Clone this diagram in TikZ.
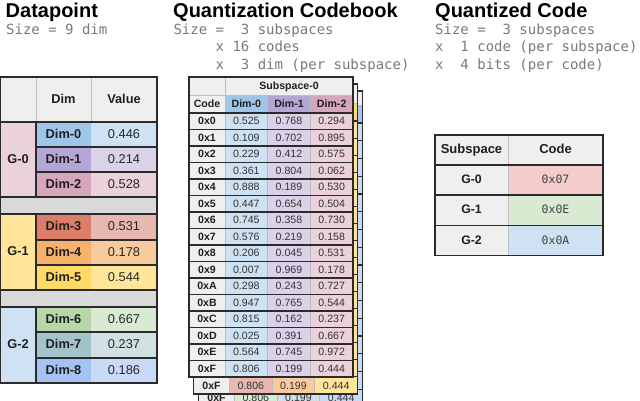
\documentclass[tikz,border=0pt]{standalone}
\usepackage{fontspec}
\setmainfont{Liberation Sans}
\setmonofont{DejaVu Sans Mono}
\definecolor{hdr}{HTML}{EFEFEF}
\definecolor{sep}{HTML}{D9D9D9}
\definecolor{dkline}{HTML}{2B2B2B}
\definecolor{ltline}{HTML}{BDBDBD}
\definecolor{sizegray}{HTML}{7A7A7A}
\definecolor{codegray}{HTML}{444444}
\definecolor{blue-d}{HTML}{9FC5E8}\definecolor{blue-l}{HTML}{CFE2F3}
\definecolor{purp-d}{HTML}{B4A7D6}\definecolor{purp-l}{HTML}{D9D2E9}
\definecolor{pink-d}{HTML}{D5A6BD}\definecolor{pink-l}{HTML}{EAD1DC}
\definecolor{red-d}{HTML}{DD7E6B}\definecolor{red-l}{HTML}{E6B8AF}
\definecolor{orng-d}{HTML}{F6B26B}\definecolor{orng-l}{HTML}{F9CB9C}
\definecolor{yel-d}{HTML}{FFD966}\definecolor{yel-l}{HTML}{FFE599}
\definecolor{grn-d}{HTML}{B6D7A8}\definecolor{grn-l}{HTML}{D9EAD3}
\definecolor{teal-d}{HTML}{A2C4C9}\definecolor{teal-l}{HTML}{D0E0E3}
\definecolor{cbl-d}{HTML}{A4C2F4}\definecolor{cbl-l}{HTML}{C9DAF8}
\definecolor{qred}{HTML}{F4CCCC}\definecolor{qgreen}{HTML}{D9EAD3}\definecolor{qblue}{HTML}{CFE2F3}
\newcommand\cellbox[8]{%
  \fill[#6] (#2,#3) rectangle (#4,#5);
  \node[#7] (#1) at ({(#2+#4)/2},{(#3+#5)/2}) {#8};}
\newcommand\drawcb{%
  \pgfmathsetmacro\xa{\cbx+36}%
  \pgfmathsetmacro\xb{\cbx+78.67}%
  \pgfmathsetmacro\xc{\cbx+121.33}%
  \pgfmathsetmacro\xd{\cbx+164}%
  \pgfmathsetmacro\ya{\cby+\cbha}%
  \pgfmathsetmacro\yb{\ya+18}%
  \pgfmathsetmacro\ye{\yb+16*\cbr}%
  \fill[hdr] (\cbx,\cby) rectangle (\xd,\yb);
  \fill[hdr] (\cbx,\yb) rectangle (\xa,\ye);
  \fill[\cha] (\xa,\ya) rectangle (\xb,\yb);
  \fill[\chb] (\xb,\ya) rectangle (\xc,\yb);
  \fill[\chc] (\xc,\ya) rectangle (\xd,\yb);
  \fill[\cva] (\xa,\yb) rectangle (\xb,\ye);
  \fill[\cvb] (\xb,\yb) rectangle (\xc,\ye);
  \fill[\cvc] (\xc,\yb) rectangle (\xd,\ye);
  \draw[lt] (\xa,\cby) -- (\xa,\ye);
  \draw[lt] (\xb,\ya) -- (\xb,\ye);
  \draw[lt] (\xc,\ya) -- (\xc,\ye);
  \draw[lt] (\cbx,\ya) -- (\xd,\ya);
  \foreach \k in {0,...,15} {\pgfmathsetmacro\yy{\yb+\k*\cbr}\draw[dk] (\cbx,\yy) -- (\xd,\yy);}
  \draw[dk] (\cbx,\cby) rectangle (\xd,\ye);
}
\begin{document}
\begin{tikzpicture}[x=1pt,y=-1pt,
  title/.style={inner sep=0pt, anchor=base west, font=\fontsize{20}{24}\selectfont\bfseries},
  sizetxt/.style={inner sep=0pt, anchor=base west, text=sizegray, font=\fontsize{14}{16}\ttfamily},
  tb/.style={inner sep=0pt, text height=0.72em, text depth=0pt, text=black!88, font=\fontsize{12.8}{14}\selectfont\bfseries},
  tr/.style={inner sep=0pt, text height=0.72em, text depth=0pt, text=black!85, font=\fontsize{12.8}{14}\selectfont},
  cbb/.style={inner sep=0pt, text height=0.72em, text depth=0pt, text=black!88, font=\fontsize{10.6}{12}\selectfont\bfseries},
  cbr/.style={inner sep=0pt, text height=0.72em, text depth=0pt, text=black!80, font=\fontsize{10.6}{12}\selectfont},
  qb/.style={inner sep=0pt, text height=0.72em, text depth=0pt, text=black!88, font=\fontsize{13}{15}\selectfont\bfseries},
  qg/.style={inner sep=0pt, text height=0.72em, text depth=0pt, text=black!88, font=\fontsize{12.3}{14}\selectfont\bfseries},
  qm/.style={inner sep=0pt, text height=0.73em, text depth=0pt, text=codegray, font=\fontsize{11.5}{13}\ttfamily},
  dk/.style={draw=dkline, line width=1.1pt},
  lt/.style={draw=ltline, line width=0.9pt}]
\useasboundingbox[fill=white] (0,0) rectangle (640,400);

% ---------- titles ----------
\node[title] (t-dp) at (5.5,17) {Datapoint};
\node[sizetxt] (s-dp) at (6,34) {Size = 9 dim};
\node[title] (t-cb) at (173,17) {Quantization Codebook};
\node[sizetxt] (s-cb1) at (173.3,34) {Size =\ \ 3 subspaces};
\node[sizetxt] (s-cb2) at (173.3,51.5) {\ \ \ \ \ x 16 codes};
\node[sizetxt] (s-cb3) at (173.3,69) {\ \ \ \ \ x\ \ 3 dim (per subspace)};
\node[title] (t-qc) at (435,17) {Quantized Code};
\node[sizetxt] (s-qc1) at (435,34) {Size =\ \ 3 subspaces};
\node[sizetxt] (s-qc2) at (435,51.5) {x\ \ 1 code (per subspace)};
\node[sizetxt] (s-qc3) at (435,69) {x\ \ 4 bits (per code)};

% ---------- datapoint table ----------
\fill[hdr] (0,77) rectangle (157,122);
\node[tb] (dp-hdim) at (63.5,99.5) {Dim};
\node[tb] (dp-hval) at (124,99.5) {Value};
\draw[lt] (36,77) -- (36,122);
\draw[lt] (91,77) -- (91,122);
\cellbox{dp-g0}{0}{122}{36}{197}{pink-l}{tb}{G-0}
\cellbox{dp-g1}{0}{214}{36}{290}{yel-l}{tb}{G-1}
\cellbox{dp-g2}{0}{307}{36}{383}{blue-l}{tb}{G-2}
\fill[sep] (0,197) rectangle (157,214);
\fill[sep] (0,290) rectangle (157,307);
\foreach \n/\ya/\yb/\cd/\cl/\v in {0/122/147/blue-d/blue-l/0.446, 1/147/172/purp-d/purp-l/0.214, 2/172/197/pink-d/pink-l/0.528, 3/214/240/red-d/red-l/0.531, 4/240/265/orng-d/orng-l/0.178, 5/265/290/yel-d/yel-l/0.544, 6/307/332/grn-d/grn-l/0.667, 7/332/358/teal-d/teal-l/0.237, 8/358/383/cbl-d/cbl-l/0.186}{
  \cellbox{dp-d\n}{36}{\ya}{91}{\yb}{\cd}{tb}{Dim-\n}
  \cellbox{dp-v\n}{91}{\ya}{157}{\yb}{\cl}{tr}{\v}
  \draw[dk] (36,\ya) rectangle (157,\yb);
}
\foreach \yy in {122,197,214,290,307}{\draw[dk] (0,\yy) -- (157,\yy);}
\draw[dk] (0.6,77) rectangle (157,383);

% ---------- codebook: back tables ----------
\def\cbx{198.5}\def\cby{91}\def\cbha{14}\def\cbr{17.75}
\def\cha{grn-d}\def\chb{teal-d}\def\chc{cbl-d}\def\cva{grn-l}\def\cvb{teal-l}\def\cvc{cbl-l}
\drawcb
\node[cbb] (t3-c15) at (216.5,398.1) {0xF};
\node[cbr] (t3-a15) at (198.5+57.33,398.1) {0.806};
\node[cbr] (t3-b15) at (198.5+100,398.1) {0.199};
\node[cbr] (t3-d15) at (198.5+142.67,398.1) {0.444};

\def\cbx{193.5}\def\cby{84}\def\cbha{19}\def\cbr{17.06}
\def\cha{red-d}\def\chb{orng-d}\def\chc{yel-d}\def\cva{red-l}\def\cvb{orng-l}\def\cvc{yel-l}
\drawcb
\node[cbb] (t2-c15) at (211.5,385.4) {0xF};
\node[cbr] (t2-a15) at (193.5+57.33,385.4) {0.806};
\node[cbr] (t2-b15) at (193.5+100,385.4) {0.199};
\node[cbr] (t2-d15) at (193.5+142.67,385.4) {0.444};

% ---------- codebook: front table ----------
\def\cbx{189}\def\cby{77}\def\cbha{18}\def\cbr{16.5}
\def\cha{blue-d}\def\chb{purp-d}\def\chc{pink-d}\def\cva{blue-l}\def\cvb{purp-l}\def\cvc{pink-l}
\drawcb
\node[cbb] (t1-sub) at (289,86) {Subspace-0};
\node[cbb] (t1-code) at (207,104) {Code};
\node[cbb] (t1-h0) at (246.33,104) {Dim-0};
\node[cbb] (t1-h1) at (289,104) {Dim-1};
\node[cbb] (t1-h2) at (331.67,104) {Dim-2};
\foreach \c/\a/\b/\d [count=\i from 0] in {0/0.525/0.768/0.294, 1/0.109/0.702/0.895, 2/0.229/0.412/0.575, 3/0.361/0.804/0.062, 4/0.888/0.189/0.530, 5/0.447/0.654/0.504, 6/0.745/0.358/0.730, 7/0.576/0.219/0.158, 8/0.206/0.045/0.531, 9/0.007/0.969/0.178, A/0.298/0.243/0.727, B/0.947/0.765/0.544, C/0.815/0.162/0.237, D/0.025/0.391/0.667, E/0.564/0.745/0.972, F/0.806/0.199/0.444}{
  \pgfmathsetmacro\yc{113+(\i+0.5)*16.5}
  \node[cbb] (t1-c\i) at (207,\yc) {0x\c};
  \node[cbr] (t1-a\i) at (246.33,\yc) {\a};
  \node[cbr] (t1-b\i) at (289,\yc) {\b};
  \node[cbr] (t1-d\i) at (331.67,\yc) {\d};
}

% ---------- quantized code table ----------
\fill[hdr] (435,135) rectangle (603,165);
\node[qb] (q-hs) at (471.5,150) {Subspace};
\node[qb] (q-hc) at (555.5,150) {Code};
\cellbox{q-g0}{435}{165}{508}{195}{hdr}{qg}{G-0}
\cellbox{q-g1}{435}{195}{508}{225.5}{hdr}{qg}{G-1}
\cellbox{q-g2}{435}{225.5}{508}{255.5}{hdr}{qg}{G-2}
\cellbox{q-c0}{508}{165}{603}{195}{qred}{qm}{0x07}
\cellbox{q-c1}{508}{195}{603}{225.5}{qgreen}{qm}{0x0E}
\cellbox{q-c2}{508}{225.5}{603}{255.5}{qblue}{qm}{0x0A}
\draw[lt] (508,135) -- (508,255.5);
\foreach \yy in {165,195,225.5}{\draw[dk] (435,\yy) -- (603,\yy);}
\draw[dk] (435,135) rectangle (603,255.5);
\end{tikzpicture}
\end{document}
